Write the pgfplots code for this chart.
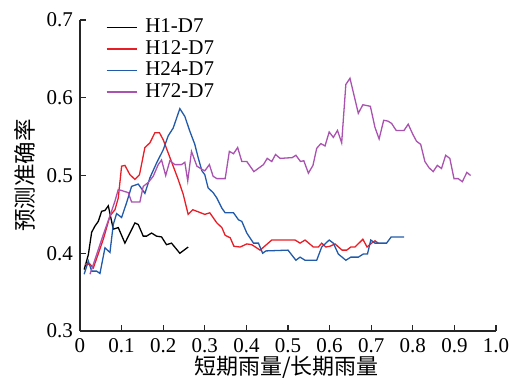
\documentclass[border=0pt]{standalone}
\usepackage{pgfplots}
\pgfplotsset{compat=1.18}
\usepackage{fontspec}
\setmainfont{Liberation Serif}
\newfontfamily\cjk{Noto Sans CJK SC}
\definecolor{cred}{RGB}{232,30,38}
\definecolor{cblue}{RGB}{34,90,170}
\definecolor{cpurple}{RGB}{170,82,176}
\begin{document}
\fontsize{21}{25}\selectfont
\begin{tikzpicture}
\useasboundingbox (-80pt,-54pt) rectangle (430pt,331pt);
\begin{axis}[
  scale only axis,
  width=416pt, height=311pt,
  xmin=0, xmax=1, ymin=0.3, ymax=0.7,
  axis lines=left,
  axis line style={-, line width=1.2pt, black!85},
  tick style={line width=1.1pt, black!85},
  tick align=inside,
  major tick length=6pt,
  xtick={0,0.1,0.2,0.3,0.4,0.5,0.6,0.7,0.8,0.9,1.0},
  xticklabels={0,0.1,0.2,0.3,0.4,0.5,0.6,0.7,0.8,0.9,1.0},
  ytick={0.3,0.4,0.5,0.6,0.7},
  yticklabels={0.3,0.4,0.5,0.6,0.7},
  xlabel={\cjk\fontsize{22}{26}\selectfont 短期雨量/长期雨量},
  ylabel={\cjk\fontsize{22.5}{26}\selectfont 预测准确率},
  xlabel style={at={(axis description cs:0.496,-0.116)}, anchor=center},
  ylabel style={at={(axis description cs:-0.132,0.5)}, anchor=center},
  legend cell align=left,
  legend style={draw=none, fill=none, inner sep=0pt,
    at={(axis description cs:0.062,1.011)}, anchor=north west,
    nodes={inner sep=1pt, text height=15pt, text depth=4.5pt}},
  legend image code/.code={\draw[#1] (0pt,0pt) -- (30pt,0pt); \path (37pt,0pt);},
  every axis plot/.append style={line width=1.3pt},
]
\addplot[black] coordinates {
(0.010,0.379) (0.020,0.398) (0.028,0.427) (0.036,0.435) (0.044,0.441) (0.052,0.454)
(0.060,0.455) (0.068,0.461) (0.076,0.441) (0.080,0.431) (0.092,0.433) (0.108,0.413)
(0.120,0.426) (0.132,0.439) (0.140,0.437) (0.152,0.422) (0.160,0.422) (0.172,0.426)
(0.184,0.422) (0.196,0.421) (0.208,0.411) (0.220,0.413) (0.240,0.400) (0.260,0.408)
};
\addlegendentry{H1-D7}
\addplot[cred] coordinates {
(0.012,0.386) (0.024,0.386) (0.032,0.381) (0.056,0.418) (0.072,0.448) (0.084,0.456)
(0.092,0.471) (0.100,0.512) (0.108,0.513) (0.120,0.501) (0.132,0.495) (0.143,0.501)
(0.156,0.536) (0.168,0.542) (0.180,0.555) (0.191,0.555) (0.200,0.546) (0.212,0.529)
(0.224,0.512) (0.236,0.495) (0.248,0.476) (0.260,0.450) (0.271,0.456) (0.300,0.450)
(0.312,0.452) (0.329,0.439) (0.341,0.433) (0.349,0.423) (0.361,0.420) (0.370,0.409)
(0.385,0.408) (0.401,0.412) (0.413,0.411) (0.433,0.404) (0.461,0.417) (0.517,0.417)
(0.529,0.413) (0.541,0.417) (0.561,0.408) (0.573,0.408) (0.581,0.413) (0.591,0.408)
(0.601,0.409) (0.613,0.412) (0.630,0.404) (0.641,0.404) (0.651,0.408) (0.661,0.408)
(0.680,0.418) (0.690,0.408) (0.701,0.413) (0.709,0.416) (0.717,0.413)
};
\addlegendentry{H12-D7}
\addplot[cblue] coordinates {
(0.010,0.373) (0.020,0.390) (0.028,0.377) (0.040,0.377) (0.048,0.374) (0.060,0.407)
(0.072,0.401) (0.080,0.437) (0.088,0.451) (0.100,0.446) (0.112,0.465) (0.124,0.486)
(0.140,0.489) (0.156,0.477) (0.168,0.497) (0.184,0.516) (0.200,0.533) (0.212,0.551)
(0.224,0.561) (0.240,0.586) (0.252,0.576) (0.264,0.557) (0.276,0.540) (0.284,0.523)
(0.293,0.506) (0.300,0.501) (0.308,0.484) (0.320,0.478) (0.329,0.471) (0.341,0.458)
(0.349,0.452) (0.369,0.452) (0.381,0.443) (0.389,0.441) (0.401,0.426) (0.417,0.413)
(0.429,0.413) (0.439,0.400) (0.447,0.403) (0.500,0.404) (0.519,0.391) (0.529,0.395)
(0.541,0.391) (0.569,0.391) (0.581,0.408) (0.599,0.417) (0.609,0.413) (0.621,0.399)
(0.639,0.391) (0.651,0.395) (0.669,0.395) (0.681,0.399) (0.691,0.399) (0.699,0.417)
(0.709,0.413) (0.737,0.413) (0.748,0.421) (0.779,0.421)
};
\addlegendentry{H24-D7}
\addplot[cpurple] coordinates {
(0.024,0.373) (0.036,0.392) (0.056,0.424) (0.072,0.448) (0.084,0.467) (0.092,0.482)
(0.104,0.480) (0.116,0.478) (0.124,0.466) (0.144,0.466) (0.152,0.486) (0.164,0.491)
(0.176,0.499) (0.188,0.514) (0.196,0.520) (0.206,0.500) (0.216,0.519) (0.228,0.514)
(0.244,0.514) (0.252,0.517) (0.259,0.493) (0.268,0.531) (0.281,0.512) (0.293,0.508)
(0.300,0.506) (0.311,0.514) (0.320,0.499) (0.329,0.496) (0.349,0.496) (0.359,0.531)
(0.369,0.528) (0.379,0.536) (0.389,0.518) (0.401,0.518) (0.418,0.505) (0.441,0.514)
(0.450,0.522) (0.461,0.518) (0.470,0.527) (0.481,0.522) (0.510,0.523) (0.519,0.526)
(0.530,0.518) (0.538,0.519) (0.549,0.503) (0.560,0.513) (0.569,0.535) (0.579,0.541)
(0.589,0.538) (0.599,0.556) (0.609,0.549) (0.619,0.558) (0.629,0.542) (0.639,0.617)
(0.649,0.625) (0.669,0.580) (0.680,0.591) (0.698,0.589) (0.709,0.562) (0.719,0.547)
(0.730,0.571) (0.740,0.570) (0.749,0.567) (0.760,0.558) (0.779,0.558) (0.789,0.566)
(0.800,0.553) (0.809,0.544) (0.819,0.540) (0.829,0.518) (0.839,0.510) (0.849,0.505)
(0.859,0.513) (0.869,0.509) (0.879,0.526) (0.889,0.522) (0.899,0.496) (0.909,0.496)
(0.919,0.492) (0.930,0.504) (0.939,0.500)
};
\addlegendentry{H72-D7}
\end{axis}
\end{tikzpicture}
\end{document}
